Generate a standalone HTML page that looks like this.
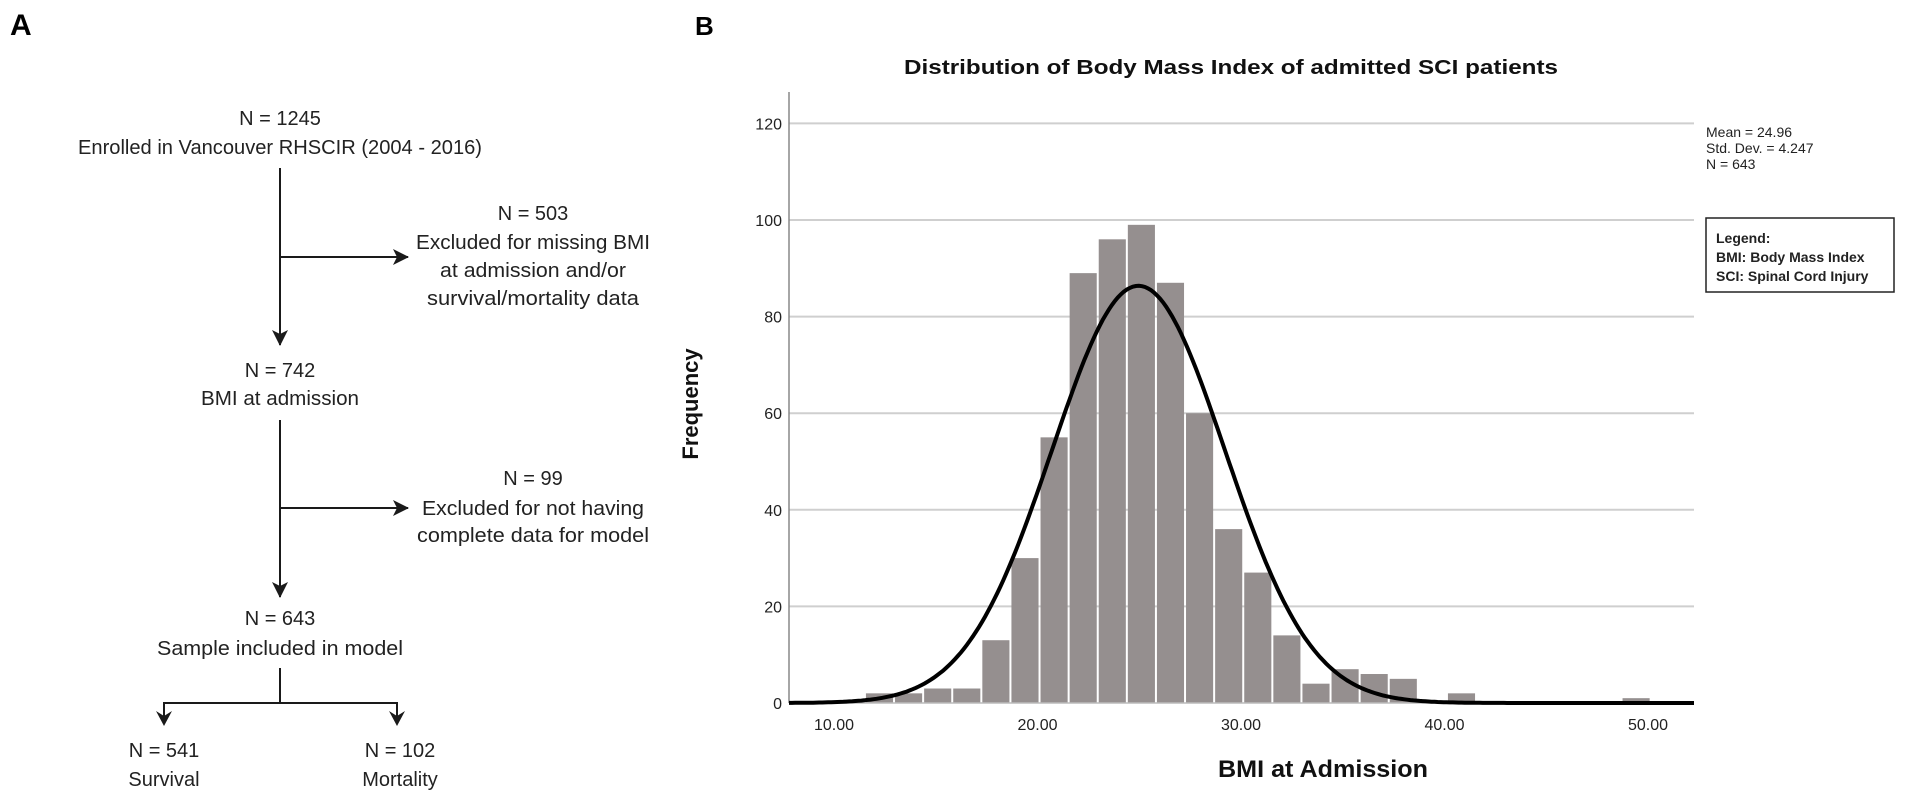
<!DOCTYPE html>
<html><head><meta charset="utf-8"><style>
html,body{margin:0;padding:0;background:#fff;}
svg{display:block;font-family:"Liberation Sans",Arial,sans-serif;}
</style></head><body>
<svg width="1910" height="810" viewBox="0 0 1910 810">
<defs>
<marker id="ah" viewBox="0 0 16 16" refX="15" refY="8" markerWidth="16" markerHeight="16" markerUnits="userSpaceOnUse" orient="auto">
<path d="M0,0 L16,8 L0,16 L4,8 Z" fill="#1a1a1a"/></marker>
</defs>
<g fill="#222" font-size="20" text-anchor="middle">
<text x="10" y="35" font-size="30" font-weight="bold" text-anchor="start" fill="#000">A</text>
<text x="280" y="125">N = 1245</text>
<text x="280" y="154" textLength="404" lengthAdjust="spacingAndGlyphs">Enrolled in Vancouver RHSCIR (2004 - 2016)</text>
<line x1="280" y1="168" x2="280" y2="345" stroke="#1a1a1a" stroke-width="2" marker-end="url(#ah)"/>
<line x1="280" y1="257" x2="408" y2="257" stroke="#1a1a1a" stroke-width="2" marker-end="url(#ah)"/>
<text x="533" y="220">N = 503</text>
<text x="533" y="249" textLength="234" lengthAdjust="spacingAndGlyphs">Excluded for missing BMI</text>
<text x="533" y="277" textLength="186" lengthAdjust="spacingAndGlyphs">at admission and/or</text>
<text x="533" y="305" textLength="212" lengthAdjust="spacingAndGlyphs">survival/mortality data</text>
<text x="280" y="377">N = 742</text>
<text x="280" y="405" textLength="158" lengthAdjust="spacingAndGlyphs">BMI at admission</text>
<line x1="280" y1="420" x2="280" y2="597" stroke="#1a1a1a" stroke-width="2" marker-end="url(#ah)"/>
<line x1="280" y1="508" x2="408" y2="508" stroke="#1a1a1a" stroke-width="2" marker-end="url(#ah)"/>
<text x="533" y="485">N = 99</text>
<text x="533" y="515" textLength="222" lengthAdjust="spacingAndGlyphs">Excluded for not having</text>
<text x="533" y="542" textLength="232" lengthAdjust="spacingAndGlyphs">complete data for model</text>
<text x="280" y="625">N = 643</text>
<text x="280" y="655" textLength="246" lengthAdjust="spacingAndGlyphs">Sample included in model</text>
<polyline points="280,668 280,703" fill="none" stroke="#1a1a1a" stroke-width="2"/>
<polyline points="164,722 164,703 397,703 397,722" fill="none" stroke="#1a1a1a" stroke-width="2"/>
<path d="M164,726 l-8,-15 l8,5 l8,-5 Z M397,726 l-8,-15 l8,5 l8,-5 Z" fill="#1a1a1a"/>
<text x="164" y="757">N = 541</text>
<text x="164" y="786">Survival</text>
<text x="400" y="757">N = 102</text>
<text x="400" y="786">Mortality</text>
</g>
<g id="chart">
<text x="695" y="35" font-size="26" font-weight="bold" fill="#000">B</text>
<text x="1231" y="74" font-size="20" font-weight="bold" text-anchor="middle" textLength="654" lengthAdjust="spacingAndGlyphs" fill="#111">Distribution of Body Mass Index of admitted SCI patients</text>
<text transform="translate(698,404) rotate(-90)" font-size="22" font-weight="bold" text-anchor="middle" fill="#111">Frequency</text>
<text x="1323" y="777" font-size="24" font-weight="bold" text-anchor="middle" textLength="210" lengthAdjust="spacingAndGlyphs" fill="#111">BMI at Admission</text>
<g font-size="14" fill="#222">
<text x="1706" y="137">Mean = 24.96</text>
<text x="1706" y="153">Std. Dev. = 4.247</text>
<text x="1706" y="169">N = 643</text>
</g>
<g>
<rect x="1706" y="218" width="188" height="74" fill="#fff" stroke="#222" stroke-width="1.5"/>
<text x="1716" y="243" font-size="14" font-weight="bold" fill="#222">Legend:</text>
<text x="1716" y="262" font-size="14" font-weight="bold" fill="#222">BMI: Body Mass Index</text>
<text x="1716" y="281" font-size="14" font-weight="bold" fill="#222">SCI: Spinal Cord Injury</text>
</g>
</g>
</svg>
<script>
const yTicks = [0, 20, 40, 60, 80, 100, 120];
const xTicks = [10, 20, 30, 40, 50];
const xTickLabels = ["10.00", "20.00", "30.00", "40.00", "50.00"];
const binStart = 11.52;
const binWidth = 1.43;
const counts = [2, 2, 3, 3, 13, 30, 55, 89, 96, 99, 87, 60, 36, 27, 14, 4, 7, 6, 5, 0, 2, 0, 0, 0, 0, 0, 1];
const mean = 24.96;
const sd = 4.247;
const nTotal = 643;

const X0 = 789, X1 = 1694, BASE = 703, TOP = 92;
const xs = v => 834 + (v - 10) * 20.35;
const ys = v => BASE - v * 4.83;
const xMin = (X0 - 834) / 20.35 + 10, xMax = (X1 - 834) / 20.35 + 10;
const NS = "http://www.w3.org/2000/svg";
const chart = document.getElementById('chart');
function mk(tag, attrs, parent) {
  const e = document.createElementNS(NS, tag);
  for (const k in attrs) e.setAttribute(k, attrs[k]);
  (parent || chart).appendChild(e);
  return e;
}
yTicks.forEach(t => {
  if (t > 0) {
    const g = mk('line', {x1: X0, x2: X1, y1: ys(t), y2: ys(t), stroke: '#cfcfcf', 'stroke-width': 2});
    
    
  }
  const l = mk('text', {x: 782, y: ys(t) + 6, 'font-size': 16, 'text-anchor': 'end', fill: '#222'});
  l.textContent = t;
  
  
});
counts.forEach((c, i) => {
  if (c <= 0) return;
  const a = binStart + i * binWidth;
  const x = xs(a), w = xs(a + binWidth) - x;
  const r = mk('rect', {x: x + 1, y: ys(c), width: w - 2, height: BASE - ys(c), fill: '#958f8f'});
  
  
});
const ax = mk('line', {x1: X0, x2: X0, y1: TOP, y2: BASE, stroke: '#888', 'stroke-width': 1.5});


const bx = mk('line', {x1: X0, x2: X1, y1: BASE, y2: BASE, stroke: '#bbb', 'stroke-width': 1.5});


xTicks.forEach((t, i) => {
  const l = mk('text', {x: xs(t), y: 730, 'font-size': 16, 'text-anchor': 'middle', fill: '#222'});
  l.textContent = xTickLabels[i];
  
  
});
let d = '';
for (let k = 0; k <= 300; k++) {
  const v = xMin + (xMax - xMin) * k / 300;
  const f = nTotal * binWidth / (sd * Math.sqrt(2 * Math.PI)) * Math.exp(-0.5 * ((v - mean) / sd) ** 2);
  d += (k ? 'L' : 'M') + xs(v).toFixed(1) + ',' + ys(f).toFixed(1);
}
const curve = mk('path', {d: d, fill: 'none', stroke: '#000', 'stroke-width': 4});


</script>
</body></html>
